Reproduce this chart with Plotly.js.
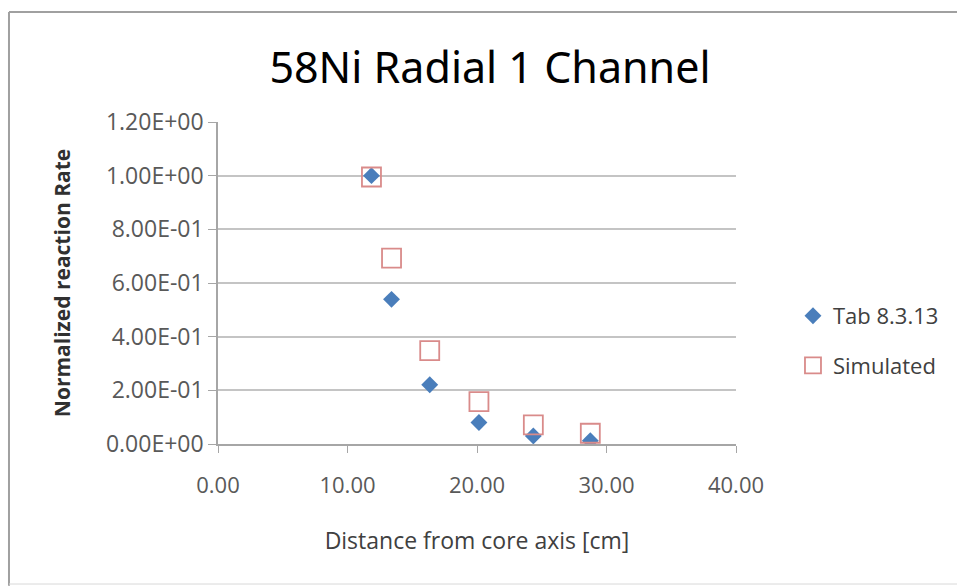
<!DOCTYPE html>
<html><head><meta charset="utf-8">
<script src="https://cdn.plot.ly/plotly-3.0.1.min.js"></script>
<style>html,body{margin:0;padding:0;background:#fff}#chart{width:957px;height:586px}</style>
</head><body><div id="chart"></div>
<script>
const distance = [11.85, 13.4, 16.35, 20.15, 24.35, 28.75];
const tabValues = [1.0, 0.539, 0.221, 0.080, 0.030, 0.012];
const simulatedValues = [0.995, 0.693, 0.348, 0.158, 0.071, 0.040];
const yTickVals = [0, 0.2, 0.4, 0.6, 0.8, 1.0, 1.2];
const yTickText = ['0.00E+00','2.00E-01','4.00E-01','6.00E-01','8.00E-01','1.00E+00','1.20E+00'];

const traces = [
  {x: distance, y: tabValues, name: 'Tab 8.3.13', type: 'scatter', mode: 'markers', legendgroup: 'a',
   marker: {symbol: 'diamond', color: '#4a7ebb', size: 13}},
  {x: distance, y: simulatedValues, name: 'Simulated', type: 'scatter', mode: 'markers', legendgroup: 'b',
   marker: {symbol: 'square-open', color: '#d98b8a', size: 19, line: {width: 1.8}}}
];
const layout = {
  width: 957, height: 586,
  margin: {l: 218, r: 221, t: 122, b: 142},
  paper_bgcolor: '#fff', plot_bgcolor: '#fff',
  font: {family: '"Open Sans", sans-serif', color: '#595959', size: 22},
  title: {text: '58Ni Radial 1 Channel', x: 0.512, xanchor: 'center', y: 0.884, yanchor: 'middle',
          font: {family: '"Noto Sans", sans-serif', size: 43, color: '#000'}},
  xaxis: {range: [0, 40], tickvals: [0,10,20,30,40], tickformat: '.2f', showgrid: false, zeroline: false,
          showline: true, linecolor: '#a6a6a6', linewidth: 1.5, ticks: 'outside', ticklen: 7, tickcolor: '#a6a6a6',
          ticklabelstandoff: 14, tickfont: {size: 22, color: '#595959'},
          title: {text: 'Distance from core axis [cm]', standoff: 35, font: {size: 23, color: '#404040'}}},
  yaxis: {range: [0, 1.2], tickvals: yTickVals, ticktext: yTickText, showgrid: true, gridcolor: '#c4c4c4',
          gridwidth: 1.5, zeroline: false, showline: true, linecolor: '#a6a6a6', linewidth: 1.5, ticks: 'outside', ticklen: 8,
          tickcolor: '#a6a6a6', tickfont: {size: 23, color: '#595959'},
          title: {text: '<b>Normalized reaction Rate</b>', standoff: 30, font: {size: 21, color: '#303030'}}},
  legend: {x: 1.11, y: 0.32, xanchor: 'left', yanchor: 'middle', font: {size: 22, color: '#404040'},
           tracegroupgap: 18, itemwidth: 30},
  showlegend: true,
  shapes: [
    {type: 'line', xref: 'paper', yref: 'paper', x0: -0.4035, x1: 1.43, y0: 1.3416, y1: 1.3416,
     line: {color: '#a0a0a0', width: 2}},
    {type: 'line', xref: 'paper', yref: 'paper', x0: -0.4035, x1: -0.4035, y0: 1.3416, y1: -0.44,
     line: {color: '#a0a0a0', width: 2}},
    {type: 'line', xref: 'paper', yref: 'paper', x0: -0.4035, x1: 1.43, y0: -0.4348, y1: -0.4348,
     line: {color: '#d8d8d8', width: 1}}
  ]
};
Plotly.newPlot('chart', traces, layout, {displayModeBar: false});
</script></body></html>
